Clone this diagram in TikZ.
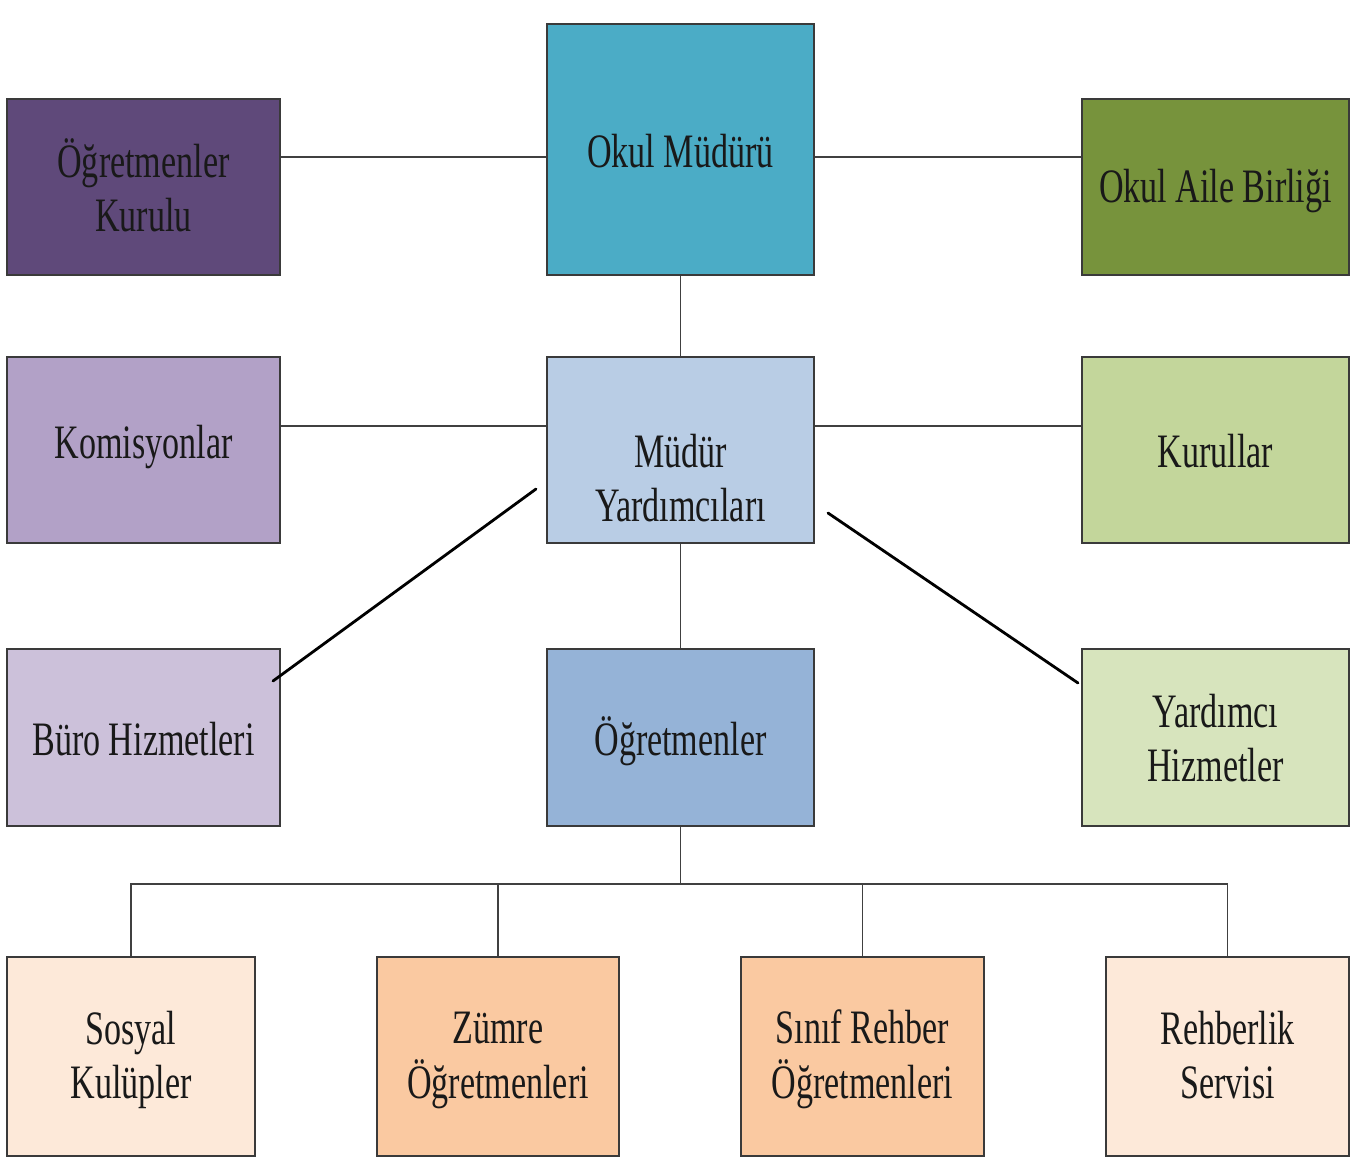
\documentclass[tikz,border=0pt]{standalone}
\usepackage{fontspec}
\setmainfont{Liberation Serif}
\usepackage{graphicx}
\definecolor{cPurpleD}{HTML}{5F497A}
\definecolor{cAqua}{HTML}{4BACC6}
\definecolor{cOlive}{HTML}{77933C}
\definecolor{cPurpleL}{HTML}{B2A1C7}
\definecolor{cBlueL}{HTML}{B9CDE5}
\definecolor{cGreenL}{HTML}{C3D69B}
\definecolor{cPurpleLL}{HTML}{CCC1DA}
\definecolor{cBlueM}{HTML}{95B3D7}
\definecolor{cGreenLL}{HTML}{D7E4BD}
\definecolor{cPeachL}{HTML}{FDE9D9}
\definecolor{cPeach}{HTML}{FAC9A1}
\definecolor{cEdge}{HTML}{3A3A3A}
\newcommand\boxtxt[2][-6pt]{\raisebox{#1}[\height][\depth]{\scalebox{0.71}[1]{\begin{tabular}{@{}c@{}}#2\end{tabular}}}}
\tikzset{
  orgbox/.style={draw=cEdge, line width=1.6pt, rectangle, inner sep=0pt,
    font=\fontsize{48}{54}\selectfont, text=black!90},
  link/.style={draw=black!75, line width=1.8pt},
  diag/.style={draw=black, line width=2.8pt, line cap=round}
}
\begin{document}
\begin{tikzpicture}[x=1pt,y=-1pt]
\useasboundingbox (0,0) rectangle (1363,1159);
% row 1
\node[orgbox, fill=cPurpleD, minimum width=273pt, minimum height=176pt] (ok) at (143.5,187) {\boxtxt{Öğretmenler\\Kurulu}};
\node[orgbox, fill=cAqua, minimum width=267pt, minimum height=251pt] (om) at (680.5,149.5) {\boxtxt[-7pt]{Okul Müdürü}};
\node[orgbox, fill=cOlive, minimum width=267pt, minimum height=176pt] (oab) at (1215.5,187) {\boxtxt[-5pt]{Okul Aile Birliği}};
% row 2
\node[orgbox, fill=cPurpleL, minimum width=273pt, minimum height=186pt] (kom) at (143.5,450) {\boxtxt[2pt]{Komisyonlar}};
\node[orgbox, fill=cBlueL, minimum width=267pt, minimum height=186pt] (my) at (680.5,450) {\boxtxt[-34pt]{Müdür\\Yardımcıları}};
\node[orgbox, fill=cGreenL, minimum width=267pt, minimum height=186pt] (kur) at (1215.5,450) {\boxtxt[-7pt]{Kurullar}};
% row 3
\node[orgbox, fill=cPurpleLL, minimum width=273pt, minimum height=177pt] (buro) at (143.5,737.5) {\boxtxt[-7pt]{Büro Hizmetleri}};
\node[orgbox, fill=cBlueM, minimum width=267pt, minimum height=177pt] (ogr) at (680.5,737.5) {\boxtxt[-7pt]{Öğretmenler}};
\node[orgbox, fill=cGreenLL, minimum width=267pt, minimum height=177pt] (yh) at (1215.5,737.5) {\boxtxt{Yardımcı\\Hizmetler}};
% row 4
\node[orgbox, fill=cPeachL, minimum width=248pt, minimum height=199pt] (sk) at (131,1056.5) {\boxtxt[-4pt]{Sosyal\\Kulüpler}};
\node[orgbox, fill=cPeach, minimum width=242pt, minimum height=199pt] (zo) at (498,1056.5) {\boxtxt[-4pt]{Zümre\\Öğretmenleri}};
\node[orgbox, fill=cPeach, minimum width=243pt, minimum height=199pt] (sr) at (862.5,1056.5) {\boxtxt[-4pt]{Sınıf Rehber\\Öğretmenleri}};
\node[orgbox, fill=cPeachL, minimum width=243pt, minimum height=199pt] (rs) at (1227.5,1056.5) {\boxtxt[-4pt]{Rehberlik\\Servisi}};
% connectors
\draw[link] ([yshift=-7.5pt]om.west) -- ([yshift=-7.5pt]om.west -| ok.east);
\draw[link] ([yshift=-7.5pt]om.east) -- ([yshift=-7.5pt]om.east -| oab.west);
\draw[link] (om.south) -- (my.north);
\draw[link] ([yshift=24pt]my.west) -- ([yshift=24pt]my.west -| kom.east);
\draw[link] ([yshift=24pt]my.east) -- ([yshift=24pt]my.east -| kur.west);
\draw[link] (my.south) -- (ogr.north);
\coordinate (d1a) at (536,489);
\coordinate (d1b) at (273,681);
\coordinate (d2a) at (828,513);
\coordinate (d2b) at (1078,683);
\draw[diag] (d1a) -- (d1b);
\draw[diag] (d2a) -- (d2b);
\coordinate (bus) at (680.5,884);
\draw[link] (ogr.south) -- (bus);
\draw[link] (sk.north) |- (bus) -| (rs.north);
\draw[link] (zo.north) -- (zo.north |- bus);
\draw[link] (sr.north) -- (sr.north |- bus);
\end{tikzpicture}
\end{document}
